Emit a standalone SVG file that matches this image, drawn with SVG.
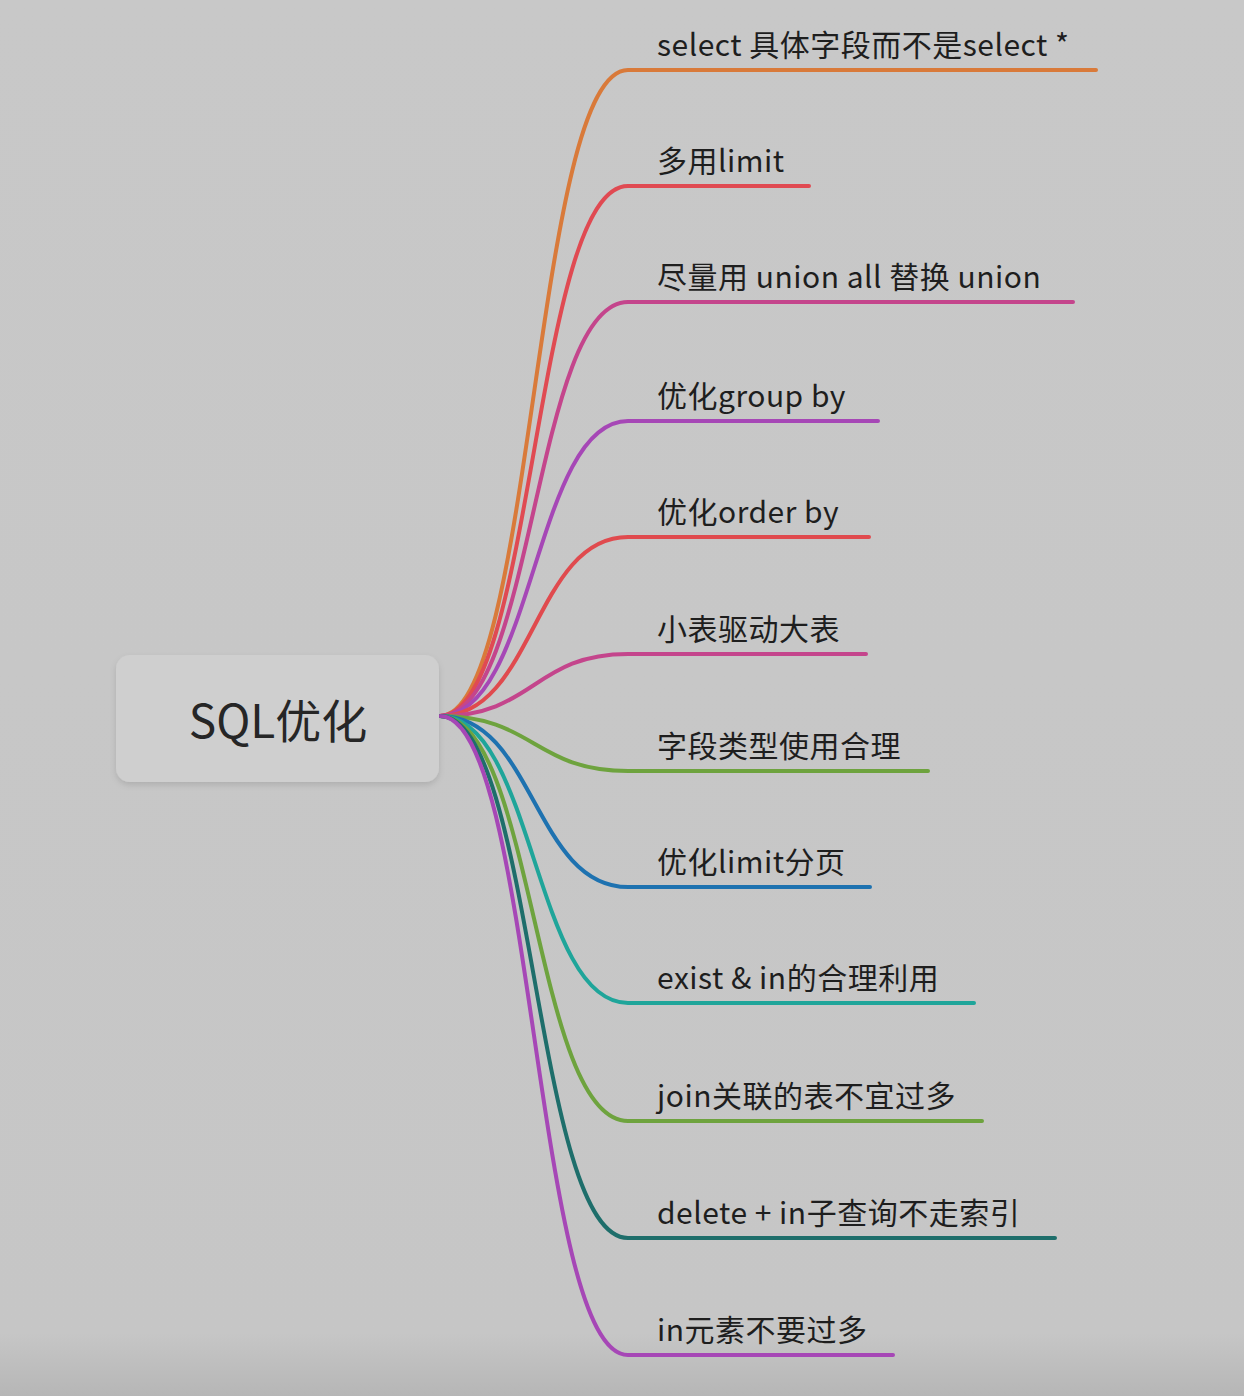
<svg xmlns="http://www.w3.org/2000/svg" width="1244" height="1396" viewBox="0 0 1244 1396">
<defs>
<linearGradient id="bg" x1="0" y1="0" x2="0" y2="1">
<stop offset="0" stop-color="#c8c8c8"/>
<stop offset="0.955" stop-color="#c6c6c6"/>
<stop offset="1" stop-color="#b6b6b6"/>
</linearGradient>
<filter id="sh" x="-10%" y="-20%" width="120%" height="150%">
<feDropShadow dx="0" dy="3" stdDeviation="3" flood-color="#000" flood-opacity="0.12"/>
</filter>
</defs>
<style>
.l{fill:none;stroke-width:4;stroke-linecap:round}
.t{font-family:"Noto Sans CJK SC","Noto Sans",sans-serif;font-size:30px;letter-spacing:0.5px;fill:#1e1e1e}
.r{font-family:"Noto Sans CJK SC","Noto Sans",sans-serif;font-size:46px;fill:#262626}
</style>
<rect width="1244" height="1396" fill="url(#bg)"/>
<g id="connectors">
<path class="l" stroke="#d97a3a" d="M440 716 C534 716 534 70 628 70 H1096"/>
<path class="l" stroke="#e04a52" d="M440 716 C534 716 534 186 628 186 H809"/>
<path class="l" stroke="#c4458c" d="M440 716 C534 716 534 302 628 302 H1073"/>
<path class="l" stroke="#a647b6" d="M440 716 C534 716 534 421 628 421 H878"/>
<path class="l" stroke="#e04a4e" d="M440 716 C534 716 534 537 628 537 H869"/>
<path class="l" stroke="#c4458c" d="M440 716 C534 716 534 654 628 654 H866"/>
<path class="l" stroke="#6ea33e" d="M440 716 C534 716 534 771 628 771 H928"/>
<path class="l" stroke="#1e72b0" d="M440 716 C534 716 534 887 628 887 H870"/>
<path class="l" stroke="#1fa59a" d="M440 716 C534 716 534 1003 628 1003 H974"/>
<path class="l" stroke="#6ea33e" d="M440 716 C534 716 534 1121 628 1121 H982"/>
<path class="l" stroke="#1e6e6b" d="M440 716 C534 716 534 1238 628 1238 H1055"/>
<path class="l" stroke="#a647b6" d="M440 716 C534 716 534 1355 628 1355 H893"/>
</g>
<g id="root">
<rect x="116" y="655" width="323" height="127" rx="14" fill="#cfcfcf" filter="url(#sh)"/>
<text class="r" x="278" y="738" text-anchor="middle">SQL优化</text>
</g>
<g id="n1"><text class="t" x="657" y="56">select 具体字段而不是select *</text></g>
<g id="n2"><text class="t" x="657" y="172">多用limit</text></g>
<g id="n3"><text class="t" x="657" y="288">尽量用 union all 替换 union</text></g>
<g id="n4"><text class="t" x="657" y="407">优化group by</text></g>
<g id="n5"><text class="t" x="657" y="523">优化order by</text></g>
<g id="n6"><text class="t" x="657" y="640">小表驱动大表</text></g>
<g id="n7"><text class="t" x="657" y="757">字段类型使用合理</text></g>
<g id="n8"><text class="t" x="657" y="873">优化limit分页</text></g>
<g id="n9"><text class="t" x="657" y="989">exist &amp; in的合理利用</text></g>
<g id="n10"><text class="t" x="657" y="1107">join关联的表不宜过多</text></g>
<g id="n11"><text class="t" x="657" y="1224">delete + in子查询不走索引</text></g>
<g id="n12"><text class="t" x="657" y="1341">in元素不要过多</text></g>
</svg>
